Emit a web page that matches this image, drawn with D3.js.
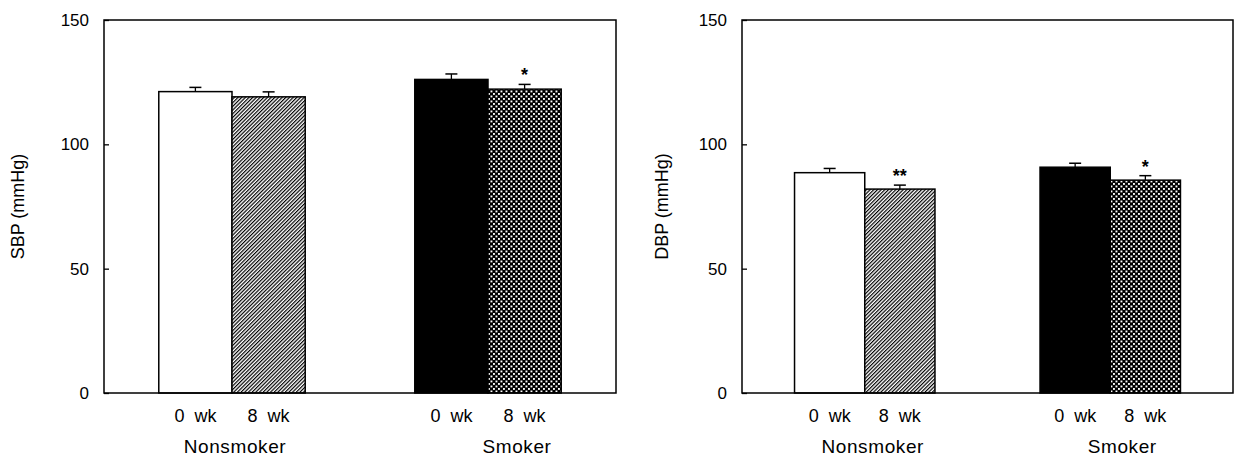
<!DOCTYPE html>
<html>
<head>
<meta charset="utf-8">
<script src="https://cdn.jsdelivr.net/npm/d3@7"></script>
<style>
  html, body { margin: 0; padding: 0; background: #fff; }
  svg { display: block; }
  text { font-family: "Liberation Sans", Arial, Helvetica, sans-serif; fill: #000; }
</style>
</head>
<body>
<svg id="chart" width="1234" height="457"></svg>
<script>
// ---- data ----
const groups = ["Nonsmoker", "Smoker"];
const weeks = ["0 wk", "8 wk"];
const yTicks = [0, 50, 100, 150];

// order: Nonsmoker 0wk, Nonsmoker 8wk, Smoker 0wk, Smoker 8wk
const sbpMean = [121.2, 119.1, 126.1, 122.2];
const sbpSE   = [1.7, 2.0, 2.2, 1.9];
const sbpSig  = ["", "", "", "*"];

const dbpMean = [88.6, 82.0, 90.8, 85.6];
const dbpSE   = [1.7, 1.6, 1.6, 1.8];
const dbpSig  = ["", "**", "", "*"];

const fills = ["white", "url(#hatch)", "black", "url(#dots)"];

// ---- drawing ----
const svg = d3.select("#chart");
const defs = svg.append("defs");

const hatch = defs.append("pattern").attr("id", "hatch")
  .attr("patternUnits", "userSpaceOnUse").attr("width", 2.6).attr("height", 2.6)
  .attr("patternTransform", "rotate(45)");
hatch.append("rect").attr("width", 2.6).attr("height", 2.6).attr("fill", "white");
hatch.append("line").attr("x1", 0.6).attr("y1", -1).attr("x2", 0.6).attr("y2", 4)
  .attr("stroke", "black").attr("stroke-width", 1.2);

const dots = defs.append("pattern").attr("id", "dots")
  .attr("patternUnits", "userSpaceOnUse").attr("width", 5).attr("height", 5);
dots.append("rect").attr("width", 5).attr("height", 5).attr("fill", "black");
dots.append("rect").attr("x", 0.5).attr("y", 0.5).attr("width", 1.9).attr("height", 1.9).attr("fill", "white");
dots.append("rect").attr("x", 3).attr("y", 3).attr("width", 1.9).attr("height", 1.9).attr("fill", "white");

const panels = [
  { left: 104, right: 616, top: 20, bottom: 393, title: "SBP (mmHg)", titleX: 24,
    mean: sbpMean, se: sbpSE, sig: sbpSig, labelShift: [3, 29] },
  { left: 742, right: 1233, top: 20, bottom: 393, title: "DBP (mmHg)", titleX: 668,
    mean: dbpMean, se: dbpSE, sig: dbpSig, labelShift: [8, 12] }
];

panels.forEach(p => {
  const g = svg.append("g");
  const y = d3.scaleLinear().domain([0, 150]).range([p.bottom, p.top]);
  const x0 = d3.scaleBand().domain(groups).range([p.left, p.right])
    .paddingInner(0.428).paddingOuter(0.214);
  const x1 = d3.scaleBand().domain(weeks).range([0, x0.bandwidth()]).padding(0);

  const rows = [];
  groups.forEach((gr, gi) => weeks.forEach((wk, wi) => {
    const i = gi * 2 + wi;
    rows.push({ group: gr, week: wk, mean: p.mean[i], se: p.se[i], sig: p.sig[i], fill: fills[i] });
  }));

  // bars
  g.selectAll("rect.bar").data(rows).join("rect").attr("class", "bar")
    .attr("x", d => x0(d.group) + x1(d.week))
    .attr("y", d => y(d.mean))
    .attr("width", x1.bandwidth())
    .attr("height", d => y(0) - y(d.mean))
    .attr("fill", d => d.fill)
    .attr("stroke", "black").attr("stroke-width", 1.5);

  // error bars (upper only)
  const cx = d => x0(d.group) + x1(d.week) + x1.bandwidth() / 2;
  g.selectAll("line.stem").data(rows).join("line").attr("class", "stem")
    .attr("x1", cx).attr("x2", cx)
    .attr("y1", d => y(d.mean)).attr("y2", d => y(d.mean + d.se))
    .attr("stroke", "black").attr("stroke-width", 1.3);
  g.selectAll("line.cap").data(rows).join("line").attr("class", "cap")
    .attr("x1", d => cx(d) - 6).attr("x2", d => cx(d) + 6)
    .attr("y1", d => y(d.mean + d.se)).attr("y2", d => y(d.mean + d.se))
    .attr("stroke", "black").attr("stroke-width", 1.5);

  // significance stars
  g.selectAll("text.sig").data(rows.filter(d => d.sig)).join("text").attr("class", "sig")
    .attr("x", cx).attr("y", d => y(d.mean + d.se) - 3)
    .attr("text-anchor", "middle").attr("font-size", 18).attr("font-weight", "bold")
    .text(d => d.sig);

  // frame
  g.append("rect").attr("x", p.left).attr("y", p.top)
    .attr("width", p.right - p.left).attr("height", p.bottom - p.top)
    .attr("fill", "none").attr("stroke", "black").attr("stroke-width", 1.5);

  // y axis: inward ticks, labels on the left
  const yAxis = d3.axisLeft(y).tickValues(yTicks).tickSize(-5).tickPadding(0);
  const ax = g.append("g").attr("transform", `translate(${p.left},0)`).call(yAxis);
  ax.select(".domain").remove();
  ax.selectAll(".tick line").attr("stroke", "black").attr("stroke-width", 1.3);
  ax.selectAll(".tick text").attr("x", -15).attr("font-size", 17)
    .attr("font-family", "Liberation Sans, Arial, sans-serif").attr("fill", "black");

  // y title
  g.append("text")
    .attr("transform", `translate(${p.titleX},${(p.top + p.bottom) / 2}) rotate(-90)`)
    .attr("text-anchor", "middle").attr("font-size", 18)
    .text(p.title);

  // week labels
  g.selectAll("text.wk").data(rows).join("text").attr("class", "wk")
    .attr("x", cx).attr("y", 422)
    .attr("text-anchor", "middle").attr("font-size", 18)
    .attr("xml:space", "preserve").style("white-space", "pre")
    .text(d => d.week.replace(" ", "  "));

  // group labels
  g.selectAll("text.grp").data(groups).join("text").attr("class", "grp")
    .attr("x", (d, i) => x0(d) + x0.bandwidth() / 2 + p.labelShift[i]).attr("y", 453)
    .attr("text-anchor", "middle").attr("font-size", 19).attr("letter-spacing", 0.6)
    .text(d => d);
});
</script>
</body>
</html>
